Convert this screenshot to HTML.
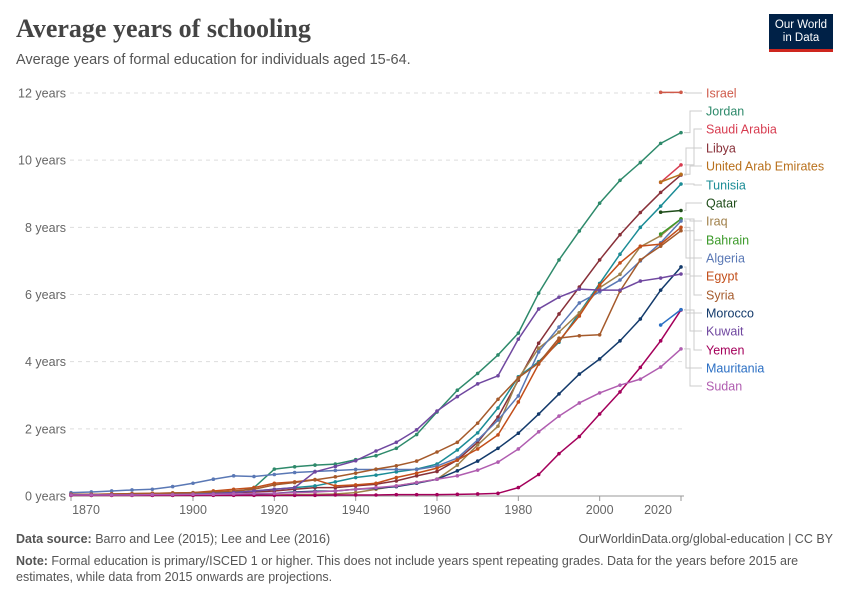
<!DOCTYPE html>
<html><head><meta charset="utf-8">
<style>
body{margin:0;background:#fff;font-family:"Liberation Sans",sans-serif;}
#wrap{position:relative;width:850px;height:600px;overflow:hidden;}
.t{position:absolute;white-space:nowrap;}
</style></head>
<body>
<div id="wrap">
<div class="t" style="left:16px;top:14px;font-family:'Liberation Serif',serif;font-size:26px;font-weight:bold;color:#444;">Average years of schooling</div>
<div class="t" style="left:16px;top:52px;font-size:14.5px;color:#555;">Average years of formal education for individuals aged 15-64.</div>
<div style="position:absolute;left:769px;top:14px;width:64px;height:38px;background:#002147;border-bottom:3px solid #ce261e;color:#fff;font-size:11.5px;line-height:13px;text-align:center;padding-top:5px;box-sizing:border-box;">Our World<br>in Data</div>
<svg id="chart" width="850" height="600" style="position:absolute;left:0;top:0;"></svg>
<div class="t" style="left:16px;top:532px;font-size:12.5px;color:#555;"><b>Data source:</b> Barro and Lee (2015); Lee and Lee (2016)</div>
<div class="t" style="right:17px;top:532px;font-size:12.5px;color:#555;">OurWorldinData.org/global-education | CC BY</div>
<div class="t" style="left:16px;top:553px;font-size:12.5px;color:#555;line-height:16px;white-space:normal;width:820px;"><b>Note:</b> Formal education is primary/ISCED 1 or higher. This does not include years spent repeating grades. Data for the years before 2015 are estimates, while data from 2015 onwards are projections.</div>
</div>
<script>
const years=[1870,1875,1880,1885,1890,1895,1900,1905,1910,1915,1920,1925,1930,1935,1940,1945,1950,1955,1960,1965,1970,1975,1980,1985,1990,1995,2000,2005,2010,2015,2020];
const yTicks=[0,2,4,6,8,10,12];
const xTicks=[1870,1900,1920,1940,1960,1980,2000,2020];
const N=null;
const israel=[N,N,N,N,N,N,N,N,N,N,N,N,N,N,N,N,N,N,N,N,N,N,N,N,N,N,N,N,N,12.02,12.02];
const jordan=[0.02,0.02,0.03,0.03,0.04,0.05,0.06,0.08,0.1,0.25,0.8,0.87,0.92,0.95,1.08,1.2,1.42,1.83,2.5,3.15,3.65,4.2,4.85,6.04,7.03,7.89,8.72,9.4,9.93,10.5,10.82];
const saudi=[N,N,N,N,N,N,N,N,N,N,N,N,N,N,N,N,N,N,N,N,N,N,N,N,N,N,N,N,N,9.34,9.86];
const libya=[0.04,0.04,0.05,0.05,0.05,0.06,0.07,0.08,0.1,0.12,0.15,0.2,0.25,0.25,0.3,0.35,0.45,0.6,0.73,1.07,1.6,2.35,3.45,4.55,5.42,6.22,7.03,7.78,8.44,9.04,9.56];
const uae=[N,N,N,N,N,N,N,N,N,N,N,N,N,N,N,N,N,N,N,N,N,N,N,N,N,N,N,N,N,9.35,9.58];
const tunisia=[0.05,0.05,0.05,0.06,0.06,0.07,0.08,0.09,0.1,0.15,0.2,0.25,0.3,0.42,0.55,0.62,0.72,0.8,0.95,1.37,1.88,2.62,3.55,4.0,4.58,5.45,6.33,7.2,8.0,8.63,9.29];
const qatar=[N,N,N,N,N,N,N,N,N,N,N,N,N,N,N,N,N,N,N,N,N,N,N,N,N,N,N,N,N,8.45,8.5];
const iraq=[0.02,0.02,0.02,0.02,0.02,0.02,0.02,0.03,0.03,0.03,0.03,0.04,0.05,0.06,0.1,0.2,0.3,0.4,0.5,0.92,1.52,2.08,3.5,4.4,4.88,5.45,6.2,6.6,7.42,7.75,8.25];
const bahrain=[N,N,N,N,N,N,N,N,N,N,N,N,N,N,N,N,N,N,N,N,N,N,N,N,N,N,N,N,N,7.8,8.25];
const algeria=[0.1,0.12,0.15,0.18,0.2,0.28,0.38,0.5,0.6,0.58,0.64,0.7,0.73,0.76,0.79,0.79,0.79,0.79,0.89,1.13,1.67,2.26,2.98,4.29,5.03,5.75,6.08,6.43,7.0,7.54,8.19];
const egypt=[0.05,0.05,0.06,0.07,0.08,0.09,0.1,0.15,0.2,0.25,0.38,0.42,0.49,0.3,0.33,0.38,0.55,0.68,0.83,1.07,1.4,1.82,2.8,3.93,4.62,5.36,6.28,6.94,7.44,7.5,8.0];
const syria=[0.05,0.05,0.06,0.07,0.08,0.09,0.1,0.12,0.15,0.2,0.33,0.4,0.48,0.57,0.68,0.8,0.9,1.04,1.31,1.6,2.17,2.88,3.52,3.96,4.7,4.77,4.8,6.1,7.03,7.44,7.9];
const morocco=[0.03,0.03,0.03,0.03,0.03,0.03,0.03,0.04,0.05,0.06,0.08,0.12,0.14,0.15,0.2,0.23,0.28,0.38,0.5,0.75,1.04,1.42,1.87,2.44,3.04,3.63,4.08,4.62,5.27,6.13,6.82];
const kuwait=[0.03,0.03,0.03,0.03,0.03,0.04,0.05,0.07,0.1,0.15,0.2,0.25,0.72,0.88,1.05,1.34,1.6,1.97,2.53,2.96,3.34,3.58,4.67,5.57,5.92,6.16,6.13,6.13,6.4,6.49,6.61];
const yemen=[0.02,0.02,0.02,0.02,0.02,0.02,0.02,0.02,0.02,0.02,0.02,0.02,0.02,0.03,0.03,0.03,0.04,0.04,0.04,0.05,0.06,0.08,0.25,0.64,1.26,1.77,2.44,3.1,3.83,4.62,5.54];
const mauritania=[N,N,N,N,N,N,N,N,N,N,N,N,N,N,N,N,N,N,N,N,N,N,N,N,N,N,N,N,N,5.09,5.55];
const sudan=[0.03,0.03,0.03,0.03,0.04,0.04,0.05,0.05,0.06,0.07,0.08,0.1,0.12,0.15,0.2,0.25,0.3,0.4,0.5,0.6,0.77,1.01,1.4,1.91,2.38,2.77,3.07,3.3,3.48,3.84,4.38];
const names=["Israel","Jordan","Saudi Arabia","Libya","United Arab Emirates","Tunisia","Qatar","Iraq","Bahrain","Algeria","Egypt","Syria","Morocco","Kuwait","Yemen","Mauritania","Sudan"];
const seriesData=[israel,jordan,saudi,libya,uae,tunisia,qatar,iraq,bahrain,algeria,egypt,syria,morocco,kuwait,yemen,mauritania,sudan];
const colors=["#cf5a4a","#2e8a6b","#d73c50","#883039","#b8701c","#1b8c96","#1f4d1a","#a0804a","#3c9a2a","#5a78b5","#c24e1a","#a55a2b","#133a6b","#7048a0","#a4005b","#2b6fc4","#b05db0"];

const NS="http://www.w3.org/2000/svg";
const svg=document.getElementById('chart');
const X0=71,X1=681,Y0=496,Y1=93;
function xs(yr){return X0+(yr-1870)/(2020-1870)*(X1-X0);}
function ys(v){return Y0-v/12*(Y0-Y1);}
function mk(tag,attrs){const e=document.createElementNS(NS,tag);for(const k in attrs)e.setAttribute(k,attrs[k]);svg.appendChild(e);return e;}

yTicks.forEach(v=>{
  const l=mk('line',{x1:70,x2:684,y1:ys(v),y2:ys(v),stroke:v===0?'#999':'#ddd','stroke-dasharray':v===0?'none':'4,4','stroke-width':1});
  
  
  const t=mk('text',{x:66,y:ys(v)+4.5,'text-anchor':'end','font-size':'12.5','fill':'#666','font-family':'Liberation Sans, sans-serif'});
  t.textContent=v+' years';
  
  
});
xTicks.forEach(yr=>{
  let lx=xs(yr);
  if(yr===1870)lx=86;
  if(yr===2020)lx=658;
  const tk=mk('line',{x1:xs(yr),x2:xs(yr),y1:496,y2:501,stroke:'#999'});
  
  
  const t=mk('text',{x:lx,y:514,'text-anchor':'middle','font-size':'12.5','fill':'#666','font-family':'Liberation Sans, sans-serif'});
  t.textContent=yr;
  
  
});

const labelY=[93,111,129,148,166,185,203,221,240,258,276,295,313,331,350,368,386];
// connectors & labels
seriesData.forEach((d,i)=>{
  const last=d[d.length-1];
  const ey=ys(last), ly=labelY[i];
  const bx=686+ (i%3)*4;
  const c=mk('polyline',{points:`684,${ey} ${bx},${ey} ${bx},${ly} 702,${ly}`,fill:'none',stroke:'#ccc','stroke-width':1});
  
  
  const t=mk('text',{x:706,y:ly+4.5,'font-size':'12.5','fill':colors[i],'font-family':'Liberation Sans, sans-serif'});
  t.textContent=names[i];
  
  
});
// series
seriesData.forEach((d,i)=>{
  const pts=[];
  d.forEach((v,j)=>{if(v!==null)pts.push([xs(years[j]),ys(v)]);});
  const p=mk('polyline',{points:pts.map(q=>q.join(',')).join(' '),fill:'none',stroke:colors[i],'stroke-width':1.5,'stroke-linejoin':'round'});
  
  
  pts.forEach(q=>{
    const c=mk('circle',{cx:q[0],cy:q[1],r:1.8,fill:colors[i]});
    
    
  });
});
</script>
</body></html>
